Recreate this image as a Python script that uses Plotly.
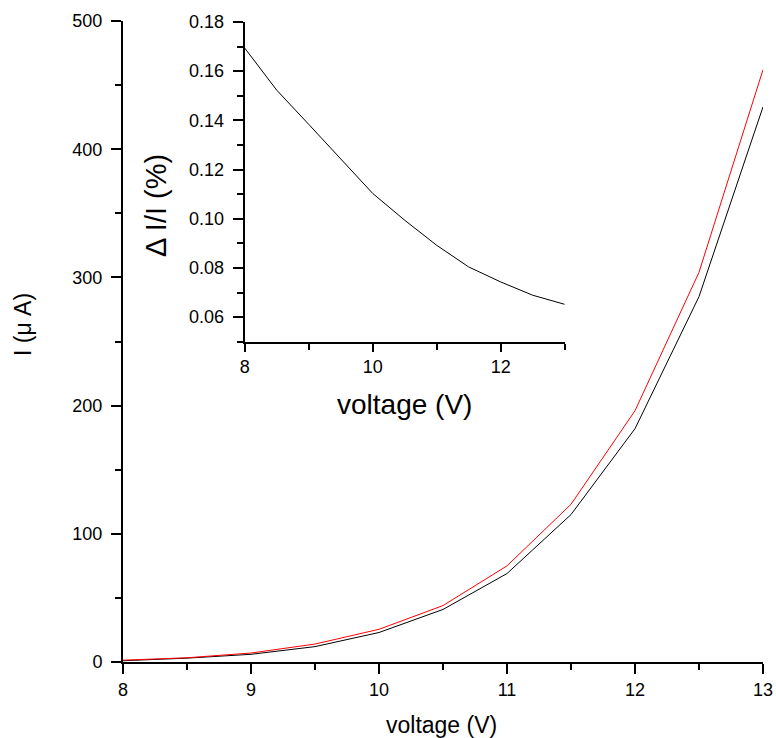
import plotly.graph_objects as go

# Main plot data
voltage = [8, 8.5, 9, 9.5, 10, 10.5, 11, 11.5, 12, 12.5, 13]
current_black = [1.0, 3.0, 6.0, 12.0, 23.0, 41.0, 69.0, 115.0, 182.0, 285.0, 433.0]
current_red = [1.4, 3.3, 7.0, 14.0, 25.5, 44.0, 75.0, 123.0, 196.0, 304.0, 462.0]

# Inset data
inset_voltage = [8, 8.5, 9, 9.5, 10, 10.5, 11, 11.5, 12, 12.5, 13]
delta_i = [0.1694, 0.1523, 0.1384, 0.1244, 0.1103, 0.0994, 0.0892, 0.0804, 0.0743, 0.0689, 0.0652]

FONT = "Liberation Sans, Arial, sans-serif"

W, H = 776, 738
L, R, T, B = 123, 13, 21, 76
pw, ph = W - L - R, H - T - B


def px_to_paper(px, py):
    return (px - L) / pw, (H - B - py) / ph


fig = go.Figure()
fig.add_trace(go.Scatter(x=voltage, y=current_black, mode="lines",
                         line=dict(color="black", width=1), xaxis="x", yaxis="y", showlegend=False))
fig.add_trace(go.Scatter(x=voltage, y=current_red, mode="lines",
                         line=dict(color="red", width=1), xaxis="x", yaxis="y", showlegend=False))
fig.add_trace(go.Scatter(x=inset_voltage, y=delta_i, mode="lines",
                         line=dict(color="black", width=1), xaxis="x2", yaxis="y2", showlegend=False))

axis_common = dict(showgrid=False, zeroline=False, showline=True, linecolor="black", linewidth=2,
                   ticks="outside", tickcolor="black", tickwidth=2, mirror=False, automargin=False,
                   tickfont=dict(size=18))
minor_common = dict(ticklen=6, tickcolor="black", tickwidth=2, ticks="outside", showgrid=False)

ix0, iy0 = px_to_paper(244.7, 341.7)
ix1, iy1 = px_to_paper(564.7, 22)

titles = [
    ("voltage (V)", 441, 725, 0, 23),
    ("I (μ A)", 23, 325, -90, 23),
    ("voltage (V)", 404, 404, 0, 28),
    ("Δ I/I (%)", 156, 206, -90, 29),
]
annotations = []
for text, px, py, ang, size in titles:
    ax, ay = px_to_paper(px, py)
    annotations.append(dict(text=text, x=ax, y=ay, xref="paper", yref="paper", showarrow=False,
                            textangle=ang, xanchor="center", yanchor="middle",
                            font=dict(size=size)))

fig.update_layout(
    width=W, height=H,
    margin=dict(l=L, r=R, t=T, b=B),
    paper_bgcolor="white", plot_bgcolor="white",
    font=dict(family=FONT, color="black", size=18),
    xaxis=dict(**axis_common, domain=[0, 1], range=[8, 13], tick0=8, dtick=1, ticklen=10,
               minor=dict(dtick=0.5, **minor_common), anchor="y"),
    yaxis=dict(**axis_common, domain=[0, 1], range=[0, 500], tick0=0, dtick=100, ticklen=10,
               ticklabelstandoff=5,
               minor=dict(dtick=50, **minor_common), anchor="x"),
    xaxis2=dict(**axis_common, domain=[ix0, ix1], range=[8, 13], tick0=8, dtick=2, ticklen=8,
                minor=dict(dtick=1, **minor_common), anchor="y2"),
    yaxis2=dict(**axis_common, domain=[iy0, iy1], range=[0.05, 0.18], tick0=0.06, dtick=0.02,
                ticklen=10, tickformat=".2f", ticklabelstandoff=5,
                minor=dict(dtick=0.01, **minor_common), anchor="x2"),
    annotations=annotations,
)

fig.write_html("out.html", config={"displayModeBar": False},
               post_script="document.body.style.margin='0px';document.body.style.overflow='hidden';")
